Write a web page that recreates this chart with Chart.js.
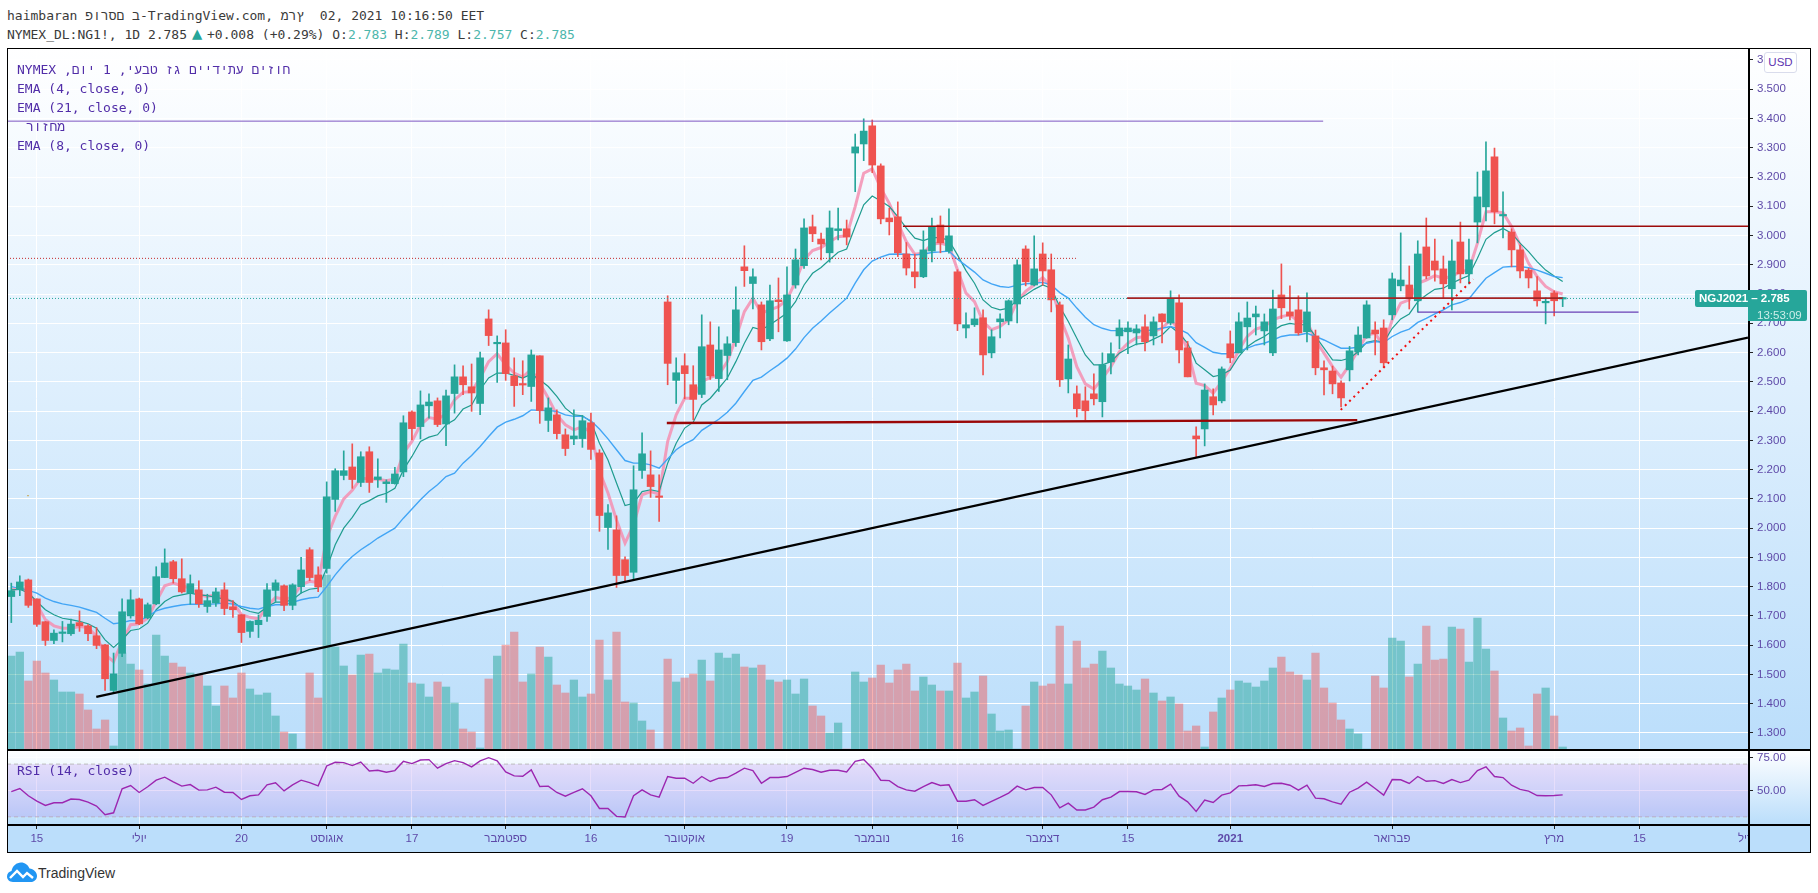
<!DOCTYPE html>
<html lang="he">
<head>
<meta charset="utf-8">
<title>NG1! 1D</title>
<script src="https://cdn.jsdelivr.net/npm/chart.js@4"></script>
<style>
  html, body { margin: 0; padding: 0; background: #fff; }
  body { width: 1818px; height: 893px; position: relative; overflow: hidden; }
  .abs { position: absolute; }
  .mono { font: 13px/16px "DejaVu Sans Mono", "Liberation Mono", monospace; white-space: pre; }
  .head { left: 7px; color: #3a3a3a; }
  .legend { left: 17px; color: #512da8; }
  .teal { color: #4db6ac; }
  #paneMain { left: 7px; top: 48px; width: 1803px; height: 701px; background: linear-gradient(#ffffff, #bbdefb); }
  #paneRsi { left: 7px; top: 749px; width: 1803px; height: 75px; background: linear-gradient(#ffffff, #bbdefb); }
  #paneTime { left: 7px; top: 824px; width: 1803px; height: 29px; background: #bbdefb; }
  canvas { position: absolute; display: block; }
  #frame { left: 7px; top: 48px; width: 1802px; height: 803px; border: 1.5px solid #000; box-sizing: content-box; pointer-events: none; }
  .rule { background: #000; }
  #usd { left: 1764px; top: 52px; width: 31px; height: 19px; background: #fff; border: 1px solid #d9dcec; border-radius: 3px;
         font: 11.5px/19px "Liberation Sans", sans-serif; color: #5e35b1; text-align: center; }
  .tag { background: #26a69a; color: #fff; font: bold 11.5px/17px "Liberation Sans", sans-serif; }
  #aprilClip { left: 1738px; top: 830px; width: 10px; height: 16px; overflow: hidden; font: 11.5px/16px "Liberation Sans", sans-serif; color: #5e49a8; white-space: nowrap; }
  #brand { left: 38px; top: 863px; font: 14px/20px "Liberation Sans", sans-serif; color: #333; }
</style>
</head>
<body>
<div class="abs mono head" style="top:8px"><bdo dir="ltr">haimbaran פורסם ב-TradingView.com, מרץ  02, 2021 10:16:50 EET</bdo></div>
<div class="abs mono head" style="top:27px">NYMEX_DL:NG1!, 1D 2.785<span style="display:inline-block;width:20px;padding-left:5px;box-sizing:border-box;color:#26a69a;font-size:17px;line-height:10px">▲</span>+0.008 (+0.29%) O:<span class="teal">2.783</span> H:<span class="teal">2.789</span> L:<span class="teal">2.757</span> C:<span class="teal">2.785</span></div>

<div class="abs" id="paneMain"></div>
<div class="abs" id="paneRsi"></div>
<div class="abs" id="paneTime"></div>
<canvas id="mainChart" width="1803" height="701" style="left:7px;top:48px"></canvas>
<canvas id="rsiChart" width="1803" height="104" style="left:7px;top:749px"></canvas>

<div class="abs mono legend" style="top:62px"><span dir="rtl" style="display:inline-block">חוזים עתידיים גז טבעי, 1 יום, NYMEX</span></div>
<div class="abs mono legend" style="top:81px">EMA (4, close, 0)</div>
<div class="abs mono legend" style="top:100px">EMA (21, close, 0)</div>
<div class="abs mono legend" style="top:119px;left:26px"><span dir="rtl" style="display:inline-block">מחזור</span></div>
<div class="abs mono legend" style="top:138px">EMA (8, close, 0)</div>
<div class="abs mono legend" style="top:763px">RSI (14, close)</div>

<div class="abs" id="aprilClip">אפריל</div>
<div class="abs" id="frame"></div>
<div class="abs rule" style="left:7px;top:749px;width:1803px;height:1.5px"></div>
<div class="abs rule" style="left:7px;top:824px;width:1803px;height:1.5px"></div>
<div class="abs rule" style="left:1748px;top:48px;width:1.5px;height:804px"></div>

<div class="abs" id="usd">USD</div>
<div class="abs tag" style="left:1695px;top:290px;width:53px;height:17px;border-radius:2px 0 0 2px;padding-left:4px;box-sizing:border-box">NGJ2021</div>
<div class="abs tag" style="left:1748px;top:290px;width:59px;height:31px;border-radius:0 2px 2px 0;text-align:left;padding-left:0;box-sizing:border-box">&nbsp;– 2.785<br><span style="font-weight:normal;color:#cdeee9;line-height:14px;margin-left:9px">13:53:09</span></div>

<svg class="abs" style="left:7px;top:862px" width="30" height="21" viewBox="0 0 30 21">
  <path d="M6 20C2 20 0 17 0 14.500C0 11.500 2 9.500 4.500 9C5.500 4 9.500 0.500 14 0.500C18 0.500 21 3 22.500 6.500C26.500 7 30 10 30 14C30 17.500 27 20 24 20Z" fill="#2196f3"/>
  <path d="M3 16L10 9L16 15L20 11L26 16" fill="none" stroke="#fff" stroke-width="2.400"/>
</svg>
<div class="abs" id="brand">TradingView</div>

<script>
// daily candles, oldest first
const opens = [1.766,1.789,1.823,1.758,1.680,1.616,1.640,1.639,1.677,1.666,
  1.632,1.601,1.445,1.572,1.700,1.758,1.693,1.741,1.831,1.885,
  1.827,1.778,1.789,1.732,1.744,1.789,1.731,1.704,1.647,1.670,
  1.698,1.787,1.803,1.736,1.800,1.926,1.840,1.862,2.098,2.180,
  2.209,2.156,2.261,2.166,2.152,2.152,2.192,2.397,2.347,2.418,
  2.435,2.356,2.460,2.517,2.483,2.426,2.715,2.630,2.633,2.520,
  2.492,2.484,2.589,2.368,2.387,2.319,2.305,2.306,2.360,2.257,
  2.002,1.994,1.892,1.849,2.197,2.182,2.110,2.773,2.505,2.555,
  2.490,2.457,2.626,2.511,2.590,2.634,2.893,2.836,2.763,2.647,
  2.780,2.640,2.831,2.897,3.030,2.988,2.941,3.017,3.023,3.282,
  3.313,3.375,3.238,3.060,3.064,2.937,2.876,2.859,2.947,3.036,
  2.947,2.876,2.684,2.695,2.719,2.599,2.705,2.708,2.766,2.954,
  2.831,2.937,2.883,2.763,2.510,2.459,2.435,2.459,2.432,2.568,
  2.657,2.671,2.667,2.688,2.657,2.732,2.701,2.770,2.616,2.315,
  2.339,2.449,2.435,2.630,2.599,2.688,2.722,2.674,2.599,2.797,
  2.739,2.746,2.671,2.657,2.548,2.537,2.496,2.541,2.602,2.650,
  2.677,2.684,2.729,2.828,2.831,2.777,2.961,2.913,2.886,2.818,
  2.978,2.869,3.046,3.098,3.269,3.067,3.012,2.951,2.882,2.811,
  2.770,2.804,2.783];
const highs = [1.812,1.837,1.826,1.758,1.681,1.652,1.681,1.689,1.717,1.670,
  1.660,1.603,1.573,1.758,1.789,1.761,1.744,1.868,1.929,1.890,
  1.895,1.840,1.820,1.774,1.795,1.813,1.752,1.704,1.683,1.703,
  1.810,1.823,1.806,1.810,1.900,1.933,1.868,2.158,2.203,2.264,
  2.288,2.261,2.278,2.237,2.165,2.208,2.384,2.401,2.469,2.459,
  2.445,2.472,2.558,2.555,2.561,2.602,2.746,2.657,2.678,2.582,
  2.572,2.609,2.589,2.445,2.404,2.339,2.404,2.385,2.393,2.268,
  2.080,2.042,1.902,2.213,2.326,2.264,2.182,2.794,2.582,2.596,
  2.555,2.729,2.705,2.688,2.654,2.825,2.965,2.886,2.773,2.831,
  2.855,2.893,2.954,3.057,3.070,3.008,3.084,3.094,3.053,3.347,
  3.399,3.395,3.245,3.094,3.115,2.976,2.937,3.016,3.060,3.067,
  3.091,2.883,2.736,2.753,2.746,2.678,2.732,2.780,2.917,2.965,
  2.999,2.975,2.937,2.773,2.626,2.486,2.483,2.527,2.599,2.633,
  2.712,2.705,2.695,2.729,2.722,2.732,2.811,2.797,2.638,2.346,
  2.493,2.476,2.551,2.674,2.736,2.773,2.759,2.732,2.814,2.903,
  2.828,2.794,2.804,2.677,2.572,2.554,2.503,2.621,2.688,2.777,
  2.705,2.712,2.872,3.009,2.896,2.982,3.060,2.988,2.930,2.985,
  3.046,2.988,3.217,3.320,3.299,3.149,3.023,2.968,2.888,2.860,
  2.787,2.811,2.789];
const lows = [1.677,1.769,1.729,1.664,1.599,1.605,1.611,1.633,1.647,1.615,
  1.588,1.445,1.436,1.561,1.692,1.670,1.690,1.738,1.831,1.812,
  1.778,1.740,1.729,1.712,1.732,1.704,1.695,1.609,1.626,1.626,
  1.681,1.749,1.718,1.721,1.778,1.820,1.783,1.846,2.057,2.165,
  2.136,2.142,2.122,2.139,2.088,2.150,2.176,2.302,2.305,2.376,
  2.347,2.282,2.393,2.456,2.399,2.388,2.624,2.498,2.505,2.416,
  2.456,2.433,2.358,2.330,2.305,2.248,2.285,2.276,2.235,1.989,
  1.927,1.797,1.818,1.823,2.170,2.105,2.023,2.490,2.426,2.442,
  2.370,2.446,2.508,2.467,2.507,2.621,2.826,2.749,2.609,2.641,
  2.671,2.638,2.820,2.888,2.979,2.917,2.909,2.985,2.968,3.150,
  3.256,3.215,3.040,3.002,2.928,2.865,2.821,2.856,2.910,2.941,
  2.940,2.675,2.650,2.689,2.524,2.582,2.650,2.695,2.701,2.828,
  2.828,2.830,2.739,2.484,2.462,2.380,2.370,2.421,2.380,2.527,
  2.613,2.596,2.626,2.606,2.626,2.633,2.695,2.565,2.517,2.244,
  2.281,2.387,2.428,2.565,2.599,2.609,2.660,2.626,2.589,2.716,
  2.712,2.660,2.636,2.524,2.455,2.459,2.414,2.503,2.592,2.649,
  2.592,2.548,2.712,2.811,2.749,2.738,2.852,2.844,2.787,2.746,
  2.838,2.835,2.975,3.050,3.040,2.992,2.893,2.855,2.821,2.759,
  2.698,2.725,2.757];
const closes = [1.786,1.816,1.736,1.671,1.616,1.641,1.642,1.672,1.666,1.639,
  1.599,1.485,1.502,1.714,1.755,1.673,1.738,1.834,1.881,1.827,
  1.782,1.810,1.741,1.752,1.782,1.725,1.721,1.643,1.681,1.685,
  1.789,1.813,1.736,1.806,1.857,1.831,1.799,2.107,2.196,2.196,
  2.166,2.244,2.156,2.175,2.158,2.185,2.360,2.340,2.421,2.431,
  2.354,2.452,2.517,2.490,2.462,2.582,2.658,2.632,2.528,2.487,
  2.489,2.592,2.402,2.411,2.323,2.272,2.315,2.367,2.269,2.043,
  2.052,1.838,1.838,2.131,2.254,2.142,2.105,2.563,2.531,2.528,
  2.440,2.620,2.520,2.609,2.630,2.746,2.880,2.859,2.637,2.777,
  2.774,2.797,2.917,3.026,3.006,2.971,3.026,3.023,2.995,3.303,
  3.357,3.241,3.057,3.047,2.941,2.889,2.859,2.951,3.030,2.975,
  2.999,2.698,2.695,2.715,2.592,2.654,2.715,2.777,2.900,2.842,
  2.886,2.879,2.780,2.507,2.578,2.408,2.401,2.442,2.558,2.596,
  2.684,2.684,2.681,2.637,2.705,2.705,2.783,2.609,2.517,2.305,
  2.472,2.421,2.544,2.582,2.705,2.718,2.732,2.705,2.749,2.753,
  2.725,2.667,2.739,2.548,2.541,2.493,2.445,2.606,2.660,2.763,
  2.664,2.565,2.852,2.848,2.787,2.937,2.862,2.882,2.835,2.913,
  2.869,2.917,3.132,3.221,3.081,3.070,2.951,2.879,2.855,2.777,
  2.773,2.777,2.785];
const volumes = [93,97,68,88,76,69,57,57,55,39,20,29,3,96,85,79,65,114,93,86,
  82,76,74,63,43,63,51,76,60,54,56,33,17,15,0,76,51,174,102,83,
  74,94,95,76,80,79,105,66,65,52,67,62,46,20,17,1,70,93,104,117,
  67,75,102,92,64,56,69,52,55,109,69,117,47,46,28,19,0,90,67,71,
  75,89,68,96,91,95,82,81,84,69,67,69,55,70,43,33,16,26,0,77,
  67,71,84,66,79,85,58,72,64,58,58,86,51,57,73,35,18,19,0,43,
  67,63,65,123,65,108,81,85,98,81,65,63,59,70,56,48,52,45,18,23,
  2,37,51,59,68,66,62,68,81,92,77,74,69,96,61,46,29,20,15,0,
  73,61,111,108,72,85,123,89,90,122,120,87,131,100,78,31,18,21,3,55,
  61,33,2];

// moving averages and RSI as plotted
const ema4 = [1.789,1.795,1.783,1.738,1.687,1.666,1.658,1.658,1.664,1.660,
  1.630,1.567,1.544,1.613,1.670,1.673,1.692,1.749,1.803,1.812,
  1.803,1.795,1.772,1.766,1.772,1.761,1.746,1.704,1.695,1.690,
  1.732,1.763,1.757,1.763,1.806,1.818,1.814,1.966,2.040,2.100,
  2.129,2.171,2.168,2.167,2.162,2.168,2.256,2.296,2.353,2.378,
  2.372,2.390,2.438,2.464,2.467,2.513,2.569,2.596,2.558,2.530,
  2.516,2.543,2.495,2.444,2.387,2.353,2.336,2.347,2.327,2.194,
  2.120,2.028,1.949,2.011,2.114,2.125,2.116,2.296,2.387,2.444,
  2.444,2.501,2.515,2.524,2.569,2.649,2.740,2.786,2.735,2.746,
  2.757,2.780,2.843,2.917,2.949,2.959,2.979,2.996,2.999,3.099,
  3.213,3.228,3.162,3.110,3.042,2.979,2.936,2.940,2.971,2.974,
  2.966,2.883,2.803,2.774,2.706,2.678,2.689,2.712,2.774,2.809,
  2.831,2.856,2.826,2.723,2.649,2.552,2.493,2.475,2.512,2.552,
  2.603,2.632,2.651,2.655,2.672,2.683,2.712,2.678,2.609,2.495,
  2.487,2.461,2.501,2.546,2.609,2.655,2.680,2.689,2.712,2.723,
  2.729,2.706,2.706,2.643,2.598,2.552,2.516,2.558,2.609,2.660,
  2.666,2.620,2.712,2.769,2.780,2.837,2.848,2.863,2.854,2.860,
  2.877,2.882,2.974,3.081,3.081,3.078,3.031,2.968,2.905,2.860,
  2.826,2.808,2.800];
const ema8 = [1.789,1.791,1.778,1.749,1.721,1.704,1.692,1.687,1.681,1.673,
  1.658,1.618,1.592,1.618,1.650,1.655,1.675,1.721,1.749,1.766,
  1.772,1.778,1.772,1.769,1.763,1.757,1.749,1.726,1.715,1.709,
  1.730,1.747,1.747,1.755,1.778,1.791,1.795,1.863,1.943,2.000,
  2.037,2.080,2.094,2.110,2.119,2.136,2.199,2.245,2.296,2.311,
  2.319,2.353,2.370,2.407,2.421,2.473,2.513,2.530,2.530,2.522,
  2.513,2.526,2.507,2.484,2.450,2.410,2.387,2.384,2.364,2.290,
  2.233,2.154,2.077,2.085,2.125,2.131,2.125,2.222,2.290,2.342,
  2.362,2.421,2.444,2.478,2.513,2.569,2.632,2.686,2.678,2.695,
  2.715,2.735,2.774,2.831,2.871,2.891,2.917,2.943,2.954,3.031,
  3.105,3.135,3.118,3.099,3.065,3.025,2.991,2.983,2.993,2.993,
  2.983,2.934,2.880,2.837,2.780,2.755,2.746,2.752,2.780,2.797,
  2.816,2.831,2.820,2.757,2.706,2.649,2.592,2.558,2.558,2.569,
  2.598,2.615,2.629,2.632,2.646,2.660,2.689,2.666,2.632,2.564,
  2.541,2.518,2.524,2.540,2.586,2.620,2.640,2.655,2.675,2.692,
  2.700,2.695,2.695,2.655,2.615,2.575,2.573,2.581,2.603,2.635,
  2.641,2.634,2.683,2.715,2.732,2.774,2.797,2.816,2.820,2.837,
  2.851,2.863,2.922,2.987,3.010,3.024,3.008,2.974,2.945,2.911,
  2.882,2.862,2.843];
const ema21 = [1.800,1.795,1.787,1.778,1.761,1.749,1.741,1.736,1.730,1.721,
  1.712,1.692,1.673,1.677,1.684,1.683,1.698,1.717,1.726,1.732,
  1.737,1.740,1.740,1.740,1.741,1.744,1.740,1.732,1.726,1.723,
  1.732,1.738,1.738,1.746,1.755,1.761,1.764,1.800,1.840,1.875,
  1.903,1.926,1.945,1.966,1.983,2.000,2.034,2.065,2.097,2.125,
  2.148,2.176,2.188,2.222,2.248,2.279,2.313,2.345,2.362,2.372,
  2.384,2.404,2.402,2.402,2.399,2.387,2.382,2.382,2.367,2.339,
  2.305,2.268,2.231,2.222,2.222,2.216,2.205,2.236,2.268,2.288,
  2.302,2.334,2.353,2.372,2.396,2.427,2.467,2.505,2.516,2.538,
  2.558,2.581,2.612,2.651,2.683,2.708,2.735,2.760,2.786,2.837,
  2.883,2.913,2.926,2.936,2.937,2.936,2.934,2.937,2.942,2.944,
  2.947,2.919,2.897,2.875,2.848,2.835,2.826,2.823,2.830,2.835,
  2.837,2.840,2.831,2.805,2.786,2.752,2.721,2.695,2.683,2.675,
  2.675,2.675,2.674,2.674,2.678,2.683,2.689,2.680,2.666,2.634,
  2.618,2.601,2.596,2.596,2.603,2.615,2.626,2.632,2.643,2.655,
  2.660,2.660,2.666,2.655,2.643,2.629,2.615,2.615,2.618,2.632,
  2.638,2.634,2.655,2.670,2.680,2.703,2.717,2.732,2.746,2.763,
  2.771,2.783,2.820,2.854,2.873,2.892,2.894,2.894,2.890,2.882,
  2.871,2.860,2.856];
const rsiValues = [49.2,51.5,46.0,41.9,38.7,40.7,40.7,43.5,43.2,41.2,
  38.2,31.6,33.1,51.3,53.8,48.5,52.8,57.8,60.1,56.5,
  53.3,54.5,50.3,50.5,52.5,48.7,48.5,43.2,46.0,46.7,
  54.3,55.8,49.7,54.3,57.8,56.0,53.5,68.6,71.4,71.1,
  68.9,71.6,64.8,65.3,63.8,65.1,72.1,70.4,73.1,73.4,
  66.9,70.4,72.6,71.1,67.9,72.4,74.9,72.4,64.1,61.1,
  60.8,65.6,53.0,53.3,48.5,45.7,48.5,51.3,46.0,36.4,
  36.4,30.4,29.9,46.0,50.5,46.7,45.0,60.6,59.3,59.3,
  55.5,60.6,56.8,59.3,59.8,63.1,66.9,65.1,55.5,59.8,
  59.8,60.6,63.8,66.9,65.9,63.8,65.3,65.3,64.1,72.1,
  73.4,66.9,57.8,57.5,53.0,50.5,49.5,53.0,56.0,53.8,
  54.3,41.9,41.9,43.0,38.7,41.7,44.7,48.0,53.3,50.5,
  52.3,52.3,46.7,36.9,40.4,35.2,35.2,37.4,43.0,45.0,
  49.2,49.2,49.0,47.0,50.5,50.8,54.8,45.7,41.4,34.1,
  42.7,40.9,46.5,48.2,53.5,53.8,54.3,53.0,55.3,55.5,
  54.0,50.3,54.0,44.2,43.7,41.4,39.7,48.7,51.8,56.3,
  51.5,46.5,58.3,58.1,55.3,60.6,57.0,57.5,55.3,58.3,
  56.0,57.8,65.1,67.9,60.6,59.8,54.0,50.8,49.5,46.2,
  46.0,46.2,46.7];

// axis ticks
const priceTicks = [1.3,1.4,1.5,1.6,1.7,1.8,1.9,2.0,2.1,2.2,2.3,2.4,2.5,2.6,2.7,2.8,2.9,3.0,3.1,3.2,3.3,3.4,3.5,3.6];
const rsiTicks = [50, 75];
const dateTicks = [3,15,27,37,47,58,68,79,91,101,111,121,131,143,162,181,191];
const dateLabels = ['15','יולי','20','אוגוסט','17','ספטמבר','16','אוקטובר','19','נובמבר','16','דצמבר','15','2021','פברואר','מרץ','15'];

// drawn levels and trend lines, bar index / price
const resistanceX = [-0.504, 153.9], resistanceY = [3.391, 3.391];
const dottedRedX = [-0.504, 124.9], dottedRedY = [2.922, 2.922];
const lastPriceX = [-0.504, 203.74], lastPriceY = [2.785, 2.785];
const topLevelX = [104.6, 203.74], topLevelY = [3.032, 3.032];
const midLevelX = [130.9, 182], midLevelY = [2.786, 2.786];
const supportX = [76.9, 157.9], supportY = [2.3595, 2.369];
const shortLevelX = [165, 190.9], shortLevelY = [2.738, 2.738];
const trendX = [9.97, 203.74], trendY = [1.423, 2.651];
const riseX = [155.96, 171.5], riseY = [2.404, 2.851];
const markerX = [1.96], markerY = [2.111];

const UP = '#26a69a', DOWN = '#ef5350';
const indices = opens.map((_, i) => i);
const candleColors = indices.map(i => closes[i] >= opens[i] ? UP : DOWN);
const volumeColors = indices.map(i => closes[i] >= opens[i] ? 'rgba(38,166,154,0.5)' : 'rgba(239,83,80,0.45)');
const X_MIN = -0.504, X_MAX = 203.74;

const series = vals => vals.map((y, i) => ({ x: i, y }));
const pairs = (xs, ys) => xs.map((x, i) => ({ x, y: ys[i] }));

function line(data, color, width, order, extra) {
  return Object.assign({
    type: 'line', data, borderColor: color, borderWidth: width, pointRadius: 0,
    tension: 0, fill: false, order, yAxisID: 'y'
  }, extra || {});
}

// the axis padding for edge labels would otherwise shrink the plot area
function fitAxis(s, size) {
  if (s.axis === 'y') s.width = size; else s.height = size;
  s.paddingTop = s.paddingBottom = s.paddingLeft = s.paddingRight = 0;
}

const axisFont = { family: '"Liberation Sans", sans-serif', size: 11.5 };
const axisInk = '#5e49a8';

new Chart(document.getElementById('mainChart'), {
  type: 'bar',
  data: {
    datasets: [
      { label: 'volume', data: series(volumes), yAxisID: 'yVol', backgroundColor: volumeColors,
        barThickness: 7.6, grouped: false, borderWidth: 0, order: 20 },
      line(series(ema4), 'rgba(244,143,177,0.85)', 3, 12),
      line(series(ema8), '#1f9c8f', 1.2, 11),
      line(series(ema21), '#42a5f5', 1.4, 10),
      { label: 'wick', data: indices.map(i => ({ x: i, y: [lows[i], highs[i]] })), yAxisID: 'y',
        backgroundColor: candleColors, barThickness: 1, grouped: false, borderWidth: 0, order: 6 },
      { label: 'body', data: indices.map(i => ({ x: i, y: [opens[i], closes[i]] })), yAxisID: 'y',
        backgroundColor: candleColors, barThickness: 7, grouped: false, borderWidth: 0, minBarLength: 1.5, order: 5 },
      line(pairs(resistanceX, resistanceY), '#7e57c2', 1, 4),
      line(pairs(dottedRedX, dottedRedY), '#c62828', 1, 4, { borderDash: [1, 2] }),
      line(pairs(lastPriceX, lastPriceY), UP, 1, 4, { borderDash: [1, 2] }),
      line(pairs(topLevelX, topLevelY), '#9c0a0a', 1.5, 3),
      line(pairs(midLevelX, midLevelY), '#a52323', 1.6, 3),
      line(pairs(supportX, supportY), '#9a0707', 2.4, 3),
      line(pairs(shortLevelX, shortLevelY), '#6a3fb5', 1.2, 3),
      line(pairs(trendX, trendY), '#000000', 2.4, 2),
      line(pairs(riseX, riseY), '#f01010', 2, 2, { borderDash: [2, 4] }),
      { type: 'line', data: pairs(markerX, markerY), showLine: false, pointStyle: 'rect', pointRadius: 1,
        pointBackgroundColor: '#c8a040', pointBorderWidth: 0, yAxisID: 'y', order: 2 }
    ]
  },
  options: {
    responsive: false, animation: false, events: [],
    devicePixelRatio: 1,
    layout: { padding: 0, autoPadding: false },
    plugins: { legend: { display: false }, tooltip: { enabled: false } },
    scales: {
      x: {
        type: 'linear', min: X_MIN, max: X_MAX, offset: false,
        grid: { color: '#ffffff', lineWidth: 1, drawTicks: false, offset: false },
        border: { display: false },
        ticks: { display: false },
        afterBuildTicks: s => { s.ticks = dateTicks.map(value => ({ value })); },
        afterFit: s => fitAxis(s, 0)
      },
      y: {
        type: 'linear', position: 'right', min: 1.245, max: 3.641,
        grid: { color: '#ffffff', lineWidth: 1, tickColor: '#222', tickLength: 5 },
        border: { display: false },
        ticks: { color: axisInk, font: axisFont, padding: 4, autoSkip: false, callback: v => v.toFixed(3) },
        afterBuildTicks: s => { s.ticks = priceTicks.map(value => ({ value })); },
        afterFit: s => fitAxis(s, 62)
      },
      yVol: { type: 'linear', display: false, min: 0, max: 701 }
    }
  }
});

new Chart(document.getElementById('rsiChart'), {
  type: 'line',
  data: {
    datasets: [
      { data: pairs([X_MIN, X_MAX], [70, 70]), borderColor: '#bdbdbd', borderWidth: 1, borderDash: [4, 3], pointRadius: 0,
        fill: '+1', backgroundColor: 'rgba(150,50,230,0.14)', order: 3 },
      { data: pairs([X_MIN, X_MAX], [30, 30]), borderColor: '#bdbdbd', borderWidth: 1, borderDash: [4, 3], pointRadius: 0, order: 3 },
      { data: series(rsiValues), borderColor: '#9c27b0', borderWidth: 1.4, pointRadius: 0, tension: 0, order: 1 }
    ]
  },
  options: {
    responsive: false, animation: false, events: [],
    devicePixelRatio: 1,
    layout: { padding: 0, autoPadding: false },
    plugins: { legend: { display: false }, tooltip: { enabled: false } },
    scales: {
      x: {
        type: 'linear', min: X_MIN, max: X_MAX,
        grid: { color: 'rgba(255,255,255,0.65)', tickColor: '#222', tickLength: 5 },
        border: { display: false },
        ticks: {
          color: axisInk, autoSkip: false, maxRotation: 0, padding: 3,
          font: ctx => ctx.tick && ctx.tick.value === 143 ? Object.assign({ weight: 'bold' }, axisFont) : axisFont,
          callback: v => dateLabels[dateTicks.indexOf(v)]
        },
        afterBuildTicks: s => { s.ticks = dateTicks.map(value => ({ value })); },
        afterFit: s => fitAxis(s, 29)
      },
      y: {
        type: 'linear', position: 'right', min: 24.6, max: 81.45,
        grid: { color: 'rgba(255,255,255,0.7)', tickColor: '#222', tickLength: 5 },
        border: { display: false },
        ticks: { color: axisInk, font: axisFont, padding: 4, autoSkip: false, callback: v => v.toFixed(2) },
        afterBuildTicks: s => { s.ticks = rsiTicks.map(value => ({ value })); },
        afterFit: s => fitAxis(s, 62)
      }
    }
  }
});
</script>
</body>
</html>
